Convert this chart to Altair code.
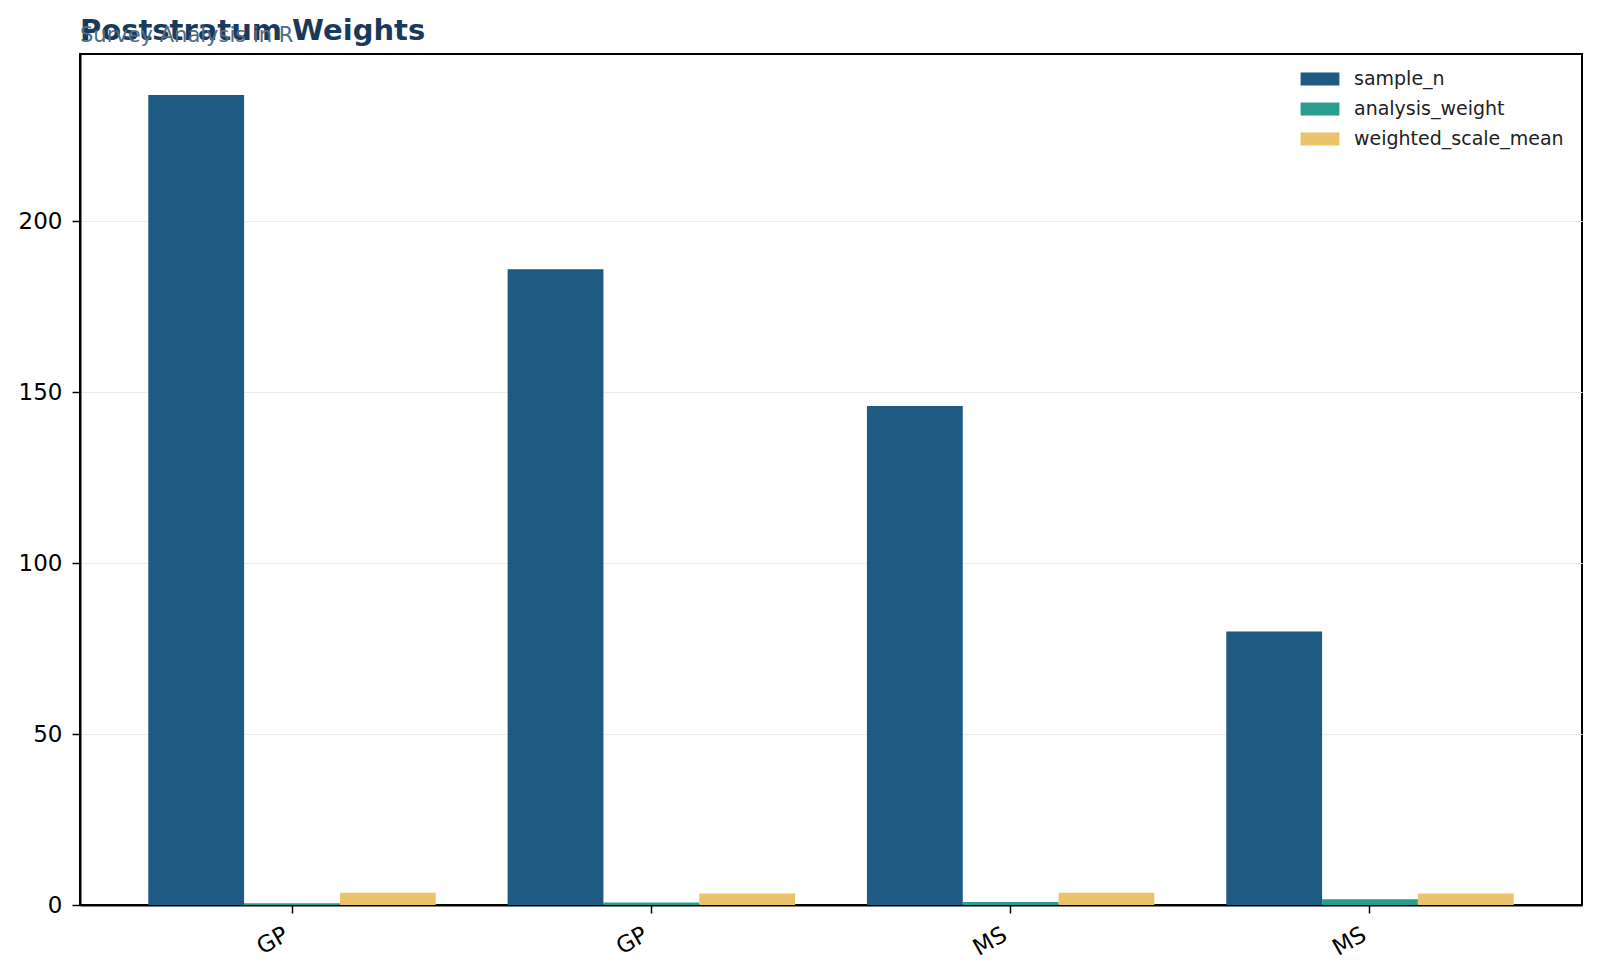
import altair as alt
import pandas as pd

strata = ["GP", "GP", "MS", "MS"]
sample_n = [237, 186, 146, 80]
analysis_weight = [0.5, 0.7, 0.9, 1.7]
weighted_scale_mean = [3.55, 3.35, 3.55, 3.35]

series = ["sample_n", "analysis_weight", "weighted_scale_mean"]
colors = ["#1f5a82", "#2a9d8f", "#e9c46a"]

rows = []
for i, lab in enumerate(strata):
    for s, vals in zip(series, [sample_n, analysis_weight, weighted_scale_mean]):
        rows.append({"idx": str(i), "label": lab, "series": s, "value": vals[i]})
df = pd.DataFrame(rows)

label_expr = "[" + ",".join(f"'{s}'" for s in strata) + "][toNumber(datum.value)]"

chart = (
    alt.Chart(df)
    .mark_bar()
    .encode(
        x=alt.X(
            "idx:N",
            title=None,
            scale=alt.Scale(paddingInner=0.2, paddingOuter=0.19),
            axis=alt.Axis(
                labelExpr=label_expr,
                labelAngle=-30,
                labelAlign="right",
                labelBaseline="top",
                labelFontSize=23,
                labelFont="DejaVu Sans",
                labelColor="#000000",
                labelPadding=10,
                labelOffset=-11,
                tickSize=8,
                tickWidth=1.5,
                tickColor="#000000",
                domainColor="#000000",
                domainWidth=2,
                grid=False,
            ),
        ),
        xOffset=alt.XOffset("series:N", sort=series, scale=alt.Scale(paddingInner=0, paddingOuter=0)),
        y=alt.Y(
            "value:Q",
            title=None,
            scale=alt.Scale(domain=[0, 249], nice=False, zero=True),
            axis=alt.Axis(
                values=[0, 50, 100, 150, 200],
                labelFontSize=23,
                labelFont="DejaVu Sans",
                labelColor="#000000",
                labelPadding=10,
                tickSize=8,
                tickWidth=1.5,
                tickColor="#000000",
                domainColor="#000000",
                domainWidth=2,
                grid=True,
                gridColor="#ebebeb",
                gridWidth=1,
            ),
        ),
        color=alt.Color(
            "series:N",
            sort=series,
            scale=alt.Scale(domain=series, range=colors),
            legend=alt.Legend(
                title=None,
                orient="none",
                legendX=1227,
                legendY=12,
                symbolType="M-1.5,-0.5H1.5V0.5H-1.5Z",
                symbolSize=669,
                symbolStrokeWidth=0,
                labelFontSize=19,
                labelFont="DejaVu Sans",
                labelColor="#222222",
                labelOffset=21,
                labelLimit=0,
                rowPadding=7,
                padding=0,
            ),
        ),
    )
    .properties(
        width=1502,
        height=851,
        background="#ffffff",
        title=alt.TitleParams(
            text="Poststratum Weights",
            subtitle="Survey Analysis in R",
            anchor="start",
            frame="group",
            font="DejaVu Sans",
            fontSize=29,
            fontWeight="bold",
            color="#1a3a5c",
            subtitleFont="DejaVu Sans",
            subtitleFontSize=21,
            subtitleColor="#4f6d85",
            subtitlePadding=-21,
            offset=8,
        ),
        padding={"left": 72, "top": 46, "right": 10, "bottom": 60},
        autosize=alt.AutoSizeParams(type="none"),
    )
    .configure_view(stroke="#000000", strokeWidth=2)
)

chart.save("out.html", embed_options={"renderer": "svg", "actions": False})
